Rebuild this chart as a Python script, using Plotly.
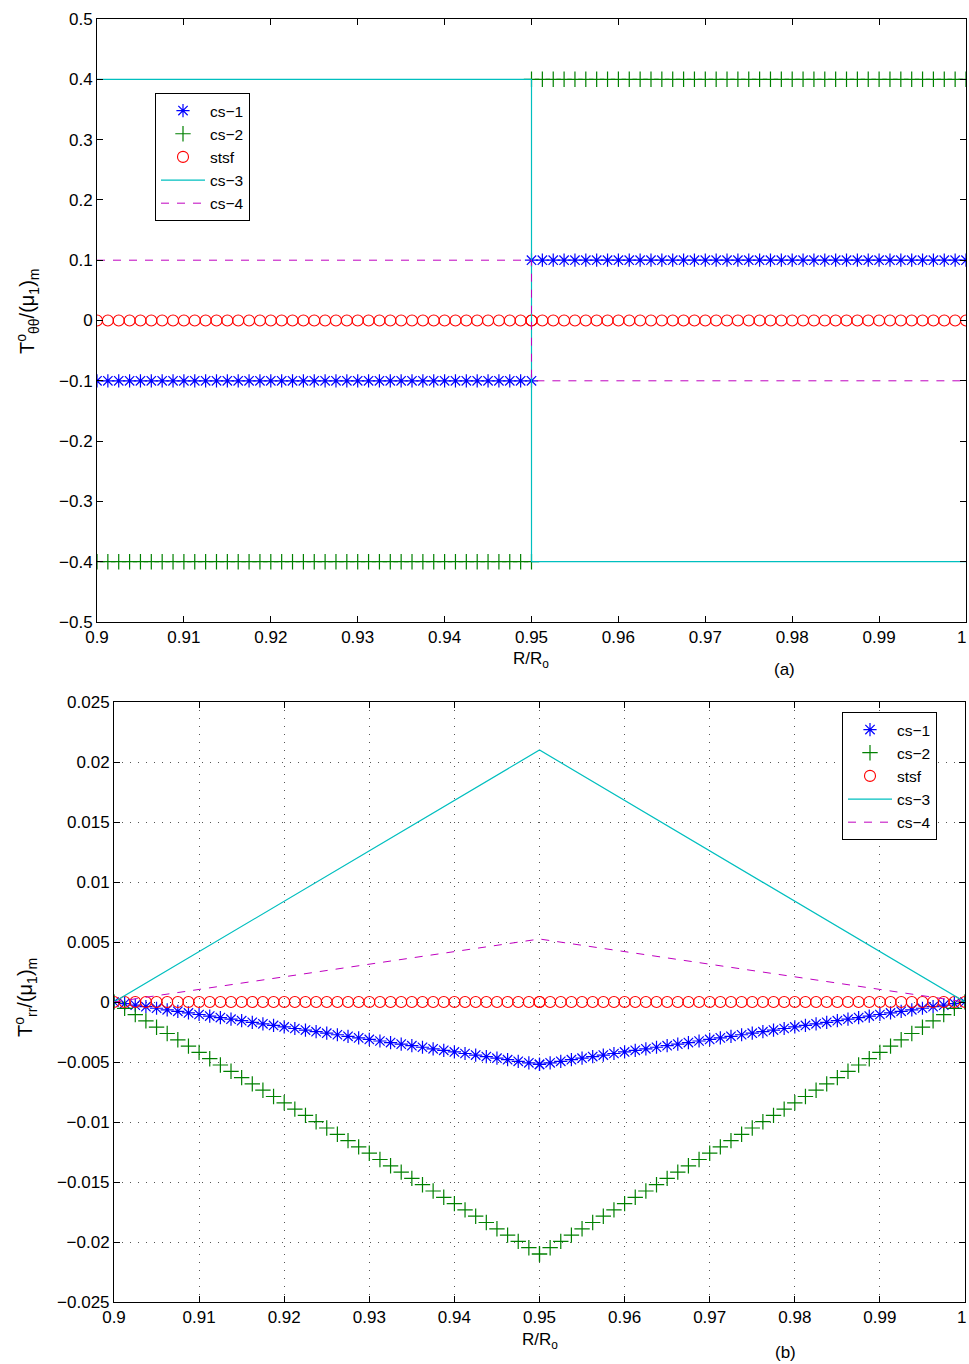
import plotly.graph_objects as go

# ---- grid of radial positions (two halves sharing R/Ro = 0.95) ----
x_left = [0.9, 0.90125, 0.9025, 0.90375, 0.905, 0.90625, 0.9075, 0.90875, 0.91, 0.91125,
          0.9125, 0.91375, 0.915, 0.91625, 0.9175, 0.91875, 0.92, 0.92125, 0.9225, 0.92375,
          0.925, 0.92625, 0.9275, 0.92875, 0.93, 0.93125, 0.9325, 0.93375, 0.935, 0.93625,
          0.9375, 0.93875, 0.94, 0.94125, 0.9425, 0.94375, 0.945, 0.94625, 0.9475, 0.94875,
          0.95]
x_right = [0.95, 0.95125, 0.9525, 0.95375, 0.955, 0.95625, 0.9575, 0.95875, 0.96, 0.96125,
           0.9625, 0.96375, 0.965, 0.96625, 0.9675, 0.96875, 0.97, 0.97125, 0.9725, 0.97375,
           0.975, 0.97625, 0.9775, 0.97875, 0.98, 0.98125, 0.9825, 0.98375, 0.985, 0.98625,
           0.9875, 0.98875, 0.99, 0.99125, 0.9925, 0.99375, 0.995, 0.99625, 0.9975, 0.99875,
           1.0]

# ---- panel (a): hoop stress ----
a_cs1_left = [-0.1, -0.1, -0.1, -0.1, -0.1, -0.1, -0.1, -0.1, -0.1, -0.1,
              -0.1, -0.1, -0.1, -0.1, -0.1, -0.1, -0.1, -0.1, -0.1, -0.1,
              -0.1, -0.1, -0.1, -0.1, -0.1, -0.1, -0.1, -0.1, -0.1, -0.1,
              -0.1, -0.1, -0.1, -0.1, -0.1, -0.1, -0.1, -0.1, -0.1, -0.1, -0.1]
a_cs1_right = [0.1, 0.1, 0.1, 0.1, 0.1, 0.1, 0.1, 0.1, 0.1, 0.1,
               0.1, 0.1, 0.1, 0.1, 0.1, 0.1, 0.1, 0.1, 0.1, 0.1,
               0.1, 0.1, 0.1, 0.1, 0.1, 0.1, 0.1, 0.1, 0.1, 0.1,
               0.1, 0.1, 0.1, 0.1, 0.1, 0.1, 0.1, 0.1, 0.1, 0.1, 0.1]
a_cs2_left = [-0.4, -0.4, -0.4, -0.4, -0.4, -0.4, -0.4, -0.4, -0.4, -0.4,
              -0.4, -0.4, -0.4, -0.4, -0.4, -0.4, -0.4, -0.4, -0.4, -0.4,
              -0.4, -0.4, -0.4, -0.4, -0.4, -0.4, -0.4, -0.4, -0.4, -0.4,
              -0.4, -0.4, -0.4, -0.4, -0.4, -0.4, -0.4, -0.4, -0.4, -0.4, -0.4]
a_cs2_right = [0.4, 0.4, 0.4, 0.4, 0.4, 0.4, 0.4, 0.4, 0.4, 0.4,
               0.4, 0.4, 0.4, 0.4, 0.4, 0.4, 0.4, 0.4, 0.4, 0.4,
               0.4, 0.4, 0.4, 0.4, 0.4, 0.4, 0.4, 0.4, 0.4, 0.4,
               0.4, 0.4, 0.4, 0.4, 0.4, 0.4, 0.4, 0.4, 0.4, 0.4, 0.4]
stsf_half = [0, 0, 0, 0, 0, 0, 0, 0, 0, 0,
             0, 0, 0, 0, 0, 0, 0, 0, 0, 0,
             0, 0, 0, 0, 0, 0, 0, 0, 0, 0,
             0, 0, 0, 0, 0, 0, 0, 0, 0, 0, 0]
a_cs3_x = [0.9, 0.95, 0.95, 1.0]
a_cs3_y = [0.4, 0.4, -0.4, -0.4]
a_cs4_x = [0.9, 0.95, 0.95, 1.0]
a_cs4_y = [0.1, 0.1, -0.1, -0.1]

# ---- panel (b): radial stress ----
b_cs1_left = [0, -0.00013, -0.00026, -0.00039, -0.00052, -0.00065, -0.00078, -0.00091,
              -0.00104, -0.00117, -0.0013, -0.00143, -0.00156, -0.00169, -0.00182,
              -0.00195, -0.00208, -0.00221, -0.00234, -0.00247, -0.0026, -0.00273,
              -0.00286, -0.00299, -0.00312, -0.00325, -0.00338, -0.00351, -0.00364,
              -0.00377, -0.0039, -0.00403, -0.00416, -0.00429, -0.00442, -0.00455,
              -0.00468, -0.00481, -0.00494, -0.00507, -0.0052]
b_cs1_right = [-0.0052, -0.00507, -0.00494, -0.00481, -0.00468, -0.00455, -0.00442,
               -0.00429, -0.00416, -0.00403, -0.0039, -0.00377, -0.00364, -0.00351,
               -0.00338, -0.00325, -0.00312, -0.00299, -0.00286, -0.00273, -0.0026,
               -0.00247, -0.00234, -0.00221, -0.00208, -0.00195, -0.00182, -0.00169,
               -0.00156, -0.00143, -0.0013, -0.00117, -0.00104, -0.00091, -0.00078,
               -0.00065, -0.00052, -0.00039, -0.00026, -0.00013, 0]
b_cs2_left = [0, -0.000525, -0.00105, -0.001575, -0.0021, -0.002625, -0.00315, -0.003675,
              -0.0042, -0.004725, -0.00525, -0.005775, -0.0063, -0.006825, -0.00735,
              -0.007875, -0.0084, -0.008925, -0.00945, -0.009975, -0.0105, -0.011025,
              -0.01155, -0.012075, -0.0126, -0.013125, -0.01365, -0.014175, -0.0147,
              -0.015225, -0.01575, -0.016275, -0.0168, -0.017325, -0.01785, -0.018375,
              -0.0189, -0.019425, -0.01995, -0.020475, -0.021]
b_cs2_right = [-0.021, -0.020475, -0.01995, -0.019425, -0.0189, -0.018375, -0.01785,
               -0.017325, -0.0168, -0.016275, -0.01575, -0.015225, -0.0147, -0.014175,
               -0.01365, -0.013125, -0.0126, -0.012075, -0.01155, -0.011025, -0.0105,
               -0.009975, -0.00945, -0.008925, -0.0084, -0.007875, -0.00735, -0.006825,
               -0.0063, -0.005775, -0.00525, -0.004725, -0.0042, -0.003675, -0.00315,
               -0.002625, -0.0021, -0.001575, -0.00105, -0.000525, 0]
b_cs3_x = [0.9, 0.95, 1.0]
b_cs3_y = [0, 0.021, 0]
b_cs4_x = [0.9, 0.95, 1.0]
b_cs4_y = [0, 0.00525, 0]

# ---- tick labels (the label of the last x tick is placed separately, nudged
#      inward so it stays inside the page) ----
x_ticks = [0.9, 0.91, 0.92, 0.93, 0.94, 0.95, 0.96, 0.97, 0.98, 0.99, 1.0]
x_ticktext = ["0.9", "0.91", "0.92", "0.93", "0.94", "0.95", "0.96", "0.97", "0.98", "0.99", ""]
x_last_label = "1"
a_yticks = [0.5, 0.4, 0.3, 0.2, 0.1, 0, -0.1, -0.2, -0.3, -0.4, -0.5]
a_yticktext = ["0.5", "0.4", "0.3", "0.2", "0.1", "0", "\u22120.1", "\u22120.2", "\u22120.3", "\u22120.4", "\u22120.5"]
b_yticks = [0.025, 0.02, 0.015, 0.01, 0.005, 0, -0.005, -0.01, -0.015, -0.02, -0.025]
b_yticktext = ["0.025", "0.02", "0.015", "0.01", "0.005", "0", "\u22120.005", "\u22120.01",
               "\u22120.015", "\u22120.02", "\u22120.025"]

BLUE = "#0000FF"
GREEN = "#008000"
RED = "#FF0000"
CYAN = "#00BFBF"
MAGENTA = "#BF00BF"
FONT = "Liberation Sans, Arial, Helvetica, sans-serif"
FS = 17

x_all = x_left + x_right

fig = go.Figure()


def add_panel(xa, ya, leg, cs1, cs2, cs3x, cs3y, cs4x, cs4y):
    fig.add_trace(go.Scatter(x=x_all, y=cs1, mode="markers", name="cs\u22121",
                             xaxis=xa, yaxis=ya, legend=leg,
                             marker=dict(symbol="asterisk-open", size=11, color=BLUE,
                                         line=dict(color=BLUE, width=1.2))))
    fig.add_trace(go.Scatter(x=x_all, y=cs2, mode="markers", name="cs\u22122",
                             xaxis=xa, yaxis=ya, legend=leg,
                             marker=dict(symbol="cross-thin-open", size=11, color=GREEN,
                                         line=dict(color=GREEN, width=1.2))))
    fig.add_trace(go.Scatter(x=x_all, y=stsf_half + stsf_half, mode="markers", name="stsf",
                             xaxis=xa, yaxis=ya, legend=leg,
                             marker=dict(symbol="circle-open", size=11, color=RED,
                                         line=dict(color=RED, width=1.1))))
    fig.add_trace(go.Scatter(x=cs3x, y=cs3y, mode="lines", name="cs\u22123",
                             xaxis=xa, yaxis=ya, legend=leg,
                             line=dict(color=CYAN, width=1.2)))
    fig.add_trace(go.Scatter(x=cs4x, y=cs4y, mode="lines", name="cs\u22124",
                             xaxis=xa, yaxis=ya, legend=leg,
                             line=dict(color=MAGENTA, width=1, dash="8px,8px")))


add_panel("x", "y", "legend", a_cs1_left + a_cs1_right, a_cs2_left + a_cs2_right,
          a_cs3_x, a_cs3_y, a_cs4_x, a_cs4_y)
add_panel("x2", "y2", "legend2", b_cs1_left + b_cs1_right, b_cs2_left + b_cs2_right,
          b_cs3_x, b_cs3_y, b_cs4_x, b_cs4_y)

W, H = 969, 1364


def px_x(p):
    return p / W


def px_y(p):
    return 1 - p / H


axis_common = dict(showline=True, linecolor="black", linewidth=1, mirror="ticks",
                   ticks="inside", ticklen=6, tickcolor="black", zeroline=False,
                   automargin=False, ticklabeloverflow="allow",
                   tickfont=dict(family=FONT, size=FS, color="black"))

legend_common = dict(xanchor="left", yanchor="top", bgcolor="white",
                     bordercolor="black", borderwidth=1, itemwidth=44,
                     font=dict(family=FONT, size=15.5, color="black"), tracegroupgap=0)

fig.update_layout(
    width=W, height=H,
    margin=dict(l=0, r=0, t=0, b=0, autoexpand=False),
    paper_bgcolor="white", plot_bgcolor="white",
    font=dict(family=FONT, size=FS, color="black"),
    xaxis=dict(domain=[px_x(97), px_x(966)], anchor="y", range=[0.9, 1.0],
               tickvals=x_ticks, ticktext=x_ticktext, showgrid=False, **axis_common),
    yaxis=dict(domain=[px_y(622), px_y(19)], anchor="x", range=[-0.5, 0.5],
               tickvals=a_yticks, ticktext=a_yticktext, showgrid=False, **axis_common),
    xaxis2=dict(domain=[px_x(114), px_x(965)], anchor="y2", range=[0.9, 1.0],
                tickvals=x_ticks, ticktext=x_ticktext, showgrid=True,
                gridcolor="#555555", gridwidth=1, griddash="1px,7px", **axis_common),
    yaxis2=dict(domain=[px_y(1302), px_y(702)], anchor="x2", range=[-0.025, 0.025],
                tickvals=b_yticks, ticktext=b_yticktext, showgrid=True,
                gridcolor="#555555", gridwidth=1, griddash="1px,7px", **axis_common),
    legend=dict(x=px_x(155), y=px_y(93), **legend_common),
    legend2=dict(x=px_x(842), y=px_y(712), **legend_common),
    showlegend=True,
)

annotations = [
    dict(text="T<sup>o</sup><sub>\u03b8\u03b8</sub>/(\u03bc<sub>1</sub>)<sub>m</sub>",
         x=px_x(27), y=px_y(312), textangle=-90, size=20),
    dict(text="T<sup>o</sup><sub>rr</sub>/(\u03bc<sub>1</sub>)<sub>m</sub>",
         x=px_x(25), y=px_y(998), textangle=-90, size=20),
    dict(text="R/R<sub>o</sub>", x=px_x(531), y=px_y(660), size=FS),
    dict(text="R/R<sub>o</sub>", x=px_x(540), y=px_y(1341), size=FS),
    dict(text="(a)", x=px_x(784), y=px_y(669), size=FS),
    dict(text="(b)", x=px_x(785), y=px_y(1352), size=FS),
    dict(text=x_last_label, x=px_x(961), y=px_y(637), size=FS),
    dict(text=x_last_label, x=px_x(961), y=px_y(1317), size=FS),
]
for a in annotations:
    size = a.pop("size")
    fig.add_annotation(xref="paper", yref="paper", showarrow=False,
                       xanchor="center", yanchor="middle",
                       font=dict(family=FONT, size=size, color="black"), **a)

fig.write_html("out.html")
